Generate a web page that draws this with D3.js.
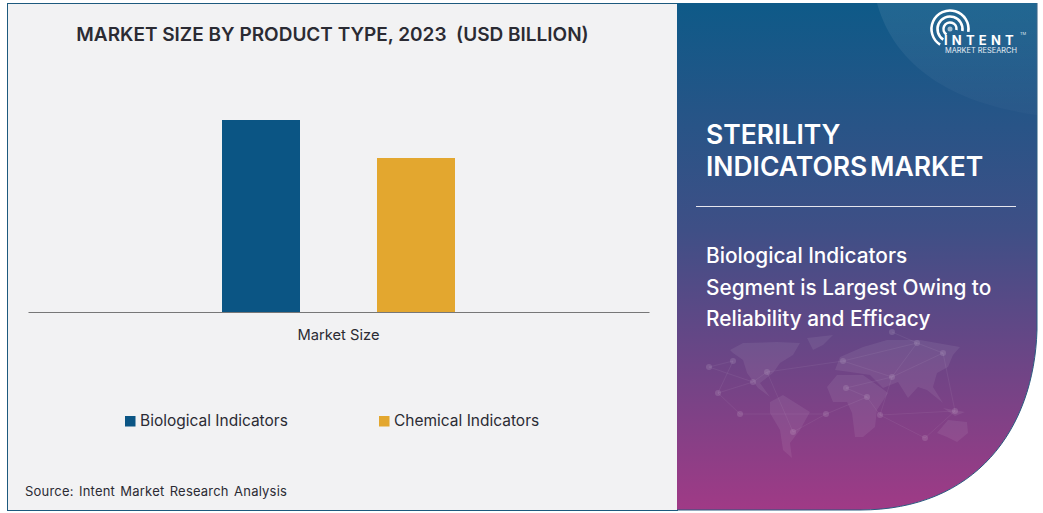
<!DOCTYPE html>
<html>
<head>
<meta charset="utf-8">
<style>
html, body { margin: 0; background: #fff; }
svg { display: block; }
text { font-family: Inter, "Open Sans", sans-serif; white-space: pre; }
</style>
<script src="https://d3js.org/d3.v7.min.js"></script>
</head>
<body>
<div id="chart"></div>
<script>
// no value axis in the picture, values are estimated from bar heights
var categories = ["Market Size"];
var seriesNames = ["Biological Indicators", "Chemical Indicators"];
var seriesValues = [1.92, 1.54];
var seriesColors = ["#0b5584", "#e3a72f"];

var svg = d3.select("#chart").append("svg")
  .attr("width", 1043)
  .attr("height", 513);

// gradients
var defs = svg.append("defs");
var grad = defs.append("linearGradient")
  .attr("id", "panelGrad")
  .attr("x1", 0).attr("y1", 0).attr("x2", 0).attr("y2", 1);
grad.append("stop").attr("offset", "0%").attr("stop-color", "#0e5a88");
grad.append("stop").attr("offset", "45%").attr("stop-color", "#3f4f86");
grad.append("stop").attr("offset", "100%").attr("stop-color", "#a03a86");

var cornerGrad = defs.append("linearGradient")
  .attr("id", "cornerGrad")
  .attr("x1", 0).attr("y1", 0).attr("x2", 0).attr("y2", 1);
cornerGrad.append("stop").attr("offset", "0%").attr("stop-color", "#fff").attr("stop-opacity", 0.08);
cornerGrad.append("stop").attr("offset", "100%").attr("stop-color", "#fff").attr("stop-opacity", 0.02);

// left panel
svg.append("rect")
  .attr("x", 7.5).attr("y", 3.5)
  .attr("width", 670).attr("height", 507)
  .attr("fill", "#f2f2f3")
  .attr("stroke", "#1d5a7e")
  .attr("stroke-width", 1);

// right panel
var panelShape = "M677,3 L1037,3 L1037,330 C1034,430 975,510 860,510 L677,510 Z";
svg.append("path")
  .attr("d", panelShape)
  .attr("fill", "url(#panelGrad)");
svg.append("path")
  .attr("d", "M1037,3 L1037,330 C1034,430 975,510 860,510 L677,510")
  .attr("fill", "none")
  .attr("stroke", "#2a5a80")
  .attr("stroke-width", 1);

defs.append("clipPath").attr("id", "panelClip").append("path").attr("d", panelShape);
var deco = svg.append("g").attr("clip-path", "url(#panelClip)");

// lighter shape in the top corner
deco.append("path")
  .attr("d", "M877,3 C890,50 930,100 1037,115 L1037,3 Z")
  .attr("fill", "url(#cornerGrad)");

// world map, rough outlines
var land = [
  "M730,350 L743,343 L777,342 L800,343 L793,355 L780,363 L773,373 L760,383 L770,397 L758,388 L747,373 L743,360 L733,353 Z",
  "M807,338 L833,335 L823,345 L813,350 Z",
  "M770,402 L783,395 L810,412 L800,430 L790,443 L792,458 L783,450 L780,430 L770,413 Z",
  "M827,387 L837,375 L863,375 L880,387 L888,393 L877,410 L875,427 L863,437 L855,437 L852,413 L847,402 L833,402 Z",
  "M835,370 L840,357 L863,347 L887,340 L920,340 L960,347 L953,355 L948,367 L937,373 L933,387 L943,403 L927,390 L918,387 L908,398 L898,382 L883,388 L870,375 L850,372 Z",
  "M937,433 L948,420 L967,422 L968,433 L957,442 L947,437 Z",
  "M943,408 L965,412 L955,416 Z"
];
deco.selectAll("path.land").data(land).enter().append("path")
  .attr("class", "land")
  .attr("d", function(d) { return d; })
  .attr("fill", "#fff").attr("fill-opacity", 0.07);

var mapNodes = [[709,367],[733,361],[718,393],[740,414],[753,382],[767,372],[793,432],[826,414],[843,361],[846,388],[867,397],[892,377],[943,353],[917,343],[880,415],[955,411],[925,438],[892,332]];
var mapLinks = [[0,1],[1,2],[0,4],[2,3],[2,4],[4,5],[3,7],[5,8],[6,7],[7,10],[8,11],[9,10],[9,11],[10,14],[11,12],[11,13],[11,14],[12,13],[8,13],[14,15],[14,16],[12,15],[17,13],[15,16],[6,5]];
deco.selectAll("line.link").data(mapLinks).enter().append("line")
  .attr("class", "link")
  .attr("x1", function(d) { return mapNodes[d[0]][0]; })
  .attr("y1", function(d) { return mapNodes[d[0]][1]; })
  .attr("x2", function(d) { return mapNodes[d[1]][0]; })
  .attr("y2", function(d) { return mapNodes[d[1]][1]; })
  .attr("stroke", "#fff").attr("stroke-opacity", 0.06);
deco.selectAll("circle.node").data(mapNodes).enter().append("circle")
  .attr("class", "node")
  .attr("cx", function(d) { return d[0]; })
  .attr("cy", function(d) { return d[1]; })
  .attr("r", 3)
  .attr("fill", "#fff").attr("fill-opacity", 0.12);

// chart title
svg.append("text")
  .attr("x", 332.5).attr("y", 41)
  .attr("text-anchor", "middle")
  .attr("font-size", 19).attr("font-weight", 600)
  .attr("fill", "#2b2b33")
  .text("MARKET SIZE BY PRODUCT TYPE, 2023  (USD BILLION)");

// scales
var x0 = d3.scaleBand().domain(categories).range([28, 649]);
var x1 = d3.scaleBand().domain(seriesNames).range([222, 455]).paddingInner(0.4968).paddingOuter(0);
var y = d3.scaleLinear().domain([0, 2]).range([312, 112]);

svg.selectAll("rect.bar")
  .data(seriesNames)
  .enter()
  .append("rect")
    .attr("class", "bar")
    .attr("x", function(d) { return x1(d); })
    .attr("y", function(d, i) { return y(seriesValues[i]); })
    .attr("width", x1.bandwidth())
    .attr("height", function(d, i) { return y(0) - y(seriesValues[i]); })
    .attr("fill", function(d, i) { return seriesColors[i]; });

// x axis
var xAxis = svg.append("g")
  .attr("transform", "translate(0,312)")
  .call(d3.axisBottom(x0).tickSize(0).tickPadding(18));
xAxis.select(".domain").attr("stroke", "#777");
xAxis.selectAll("text").attr("font-size", 14.7).attr("fill", "#2b2b33").style("font-family", "Inter");

// legend
var legendX = [125, 379];
var legend = svg.selectAll("g.legend").data(seriesNames).enter().append("g")
  .attr("class", "legend")
  .attr("transform", function(d, i) { return "translate(" + legendX[i] + ",416)"; });
legend.append("rect")
  .attr("width", 10.5).attr("height", 10.5)
  .attr("fill", function(d, i) { return seriesColors[i]; });
legend.append("text")
  .attr("x", 15).attr("y", 10)
  .attr("font-size", 15.5)
  .attr("fill", "#2b2b33")
  .text(function(d) { return d; });

// source
svg.append("text")
  .attr("x", 25).attr("y", 496)
  .attr("font-size", 13)
  .attr("letter-spacing", 0.2)
  .attr("word-spacing", 1.5)
  .attr("fill", "#2b2b33")
  .text("Source: Intent Market Research Analysis");

// right panel text
var heading = ["STERILITY", "INDICATORS MARKET"];
svg.selectAll("text.heading").data(heading).enter().append("text")
  .attr("class", "heading")
  .attr("x", 706)
  .attr("y", function(d, i) { return 144 + i * 32; })
  .attr("font-size", 26.5).attr("font-weight", 600)
  .attr("word-spacing", -4)
  .attr("fill", "#fff")
  .text(function(d) { return d; });

svg.append("line")
  .attr("x1", 696).attr("x2", 1016)
  .attr("y1", 206.5).attr("y2", 206.5)
  .attr("stroke", "#e6e6ee");

var subtitle = ["Biological Indicators", "Segment is Largest Owing to", "Reliability and Efficacy"];
svg.selectAll("text.sub").data(subtitle).enter().append("text")
  .attr("class", "sub")
  .attr("x", 706)
  .attr("y", function(d, i) { return 263 + i * 31.5; })
  .attr("font-size", 20.8).attr("font-weight", 500)
  .attr("fill", "#fff")
  .text(function(d) { return d; });

// logo
var logo = svg.append("g").attr("transform", "translate(950,29)");
var arc = d3.arc();
[6.5, 12.5, 18.5].forEach(function(r) {
  logo.append("path")
    .attr("d", arc({innerRadius: r - 1.3, outerRadius: r + 1.3, startAngle: -Math.PI * 0.82, endAngle: Math.PI * 0.55}))
    .attr("fill", "#fff");
});
logo.append("circle").attr("r", 2.5).attr("fill", "#fff").attr("fill-opacity", 0.6);
logo.append("text")
  .attr("x", -6).attr("y", 15.5)
  .attr("font-size", 13).attr("font-weight", 700)
  .attr("letter-spacing", 4.2)
  .attr("fill", "#fff")
  .text("INTENT");
logo.append("text")
  .attr("x", 70).attr("y", 6)
  .attr("font-size", 4)
  .attr("fill", "#dfe6ef")
  .text("TM");
logo.append("text")
  .attr("x", -5).attr("y", 24)
  .attr("font-size", 7.4)
  .attr("fill", "#e8eef5")
  .text("MARKET RESEARCH");
</script>
</body>
</html>
